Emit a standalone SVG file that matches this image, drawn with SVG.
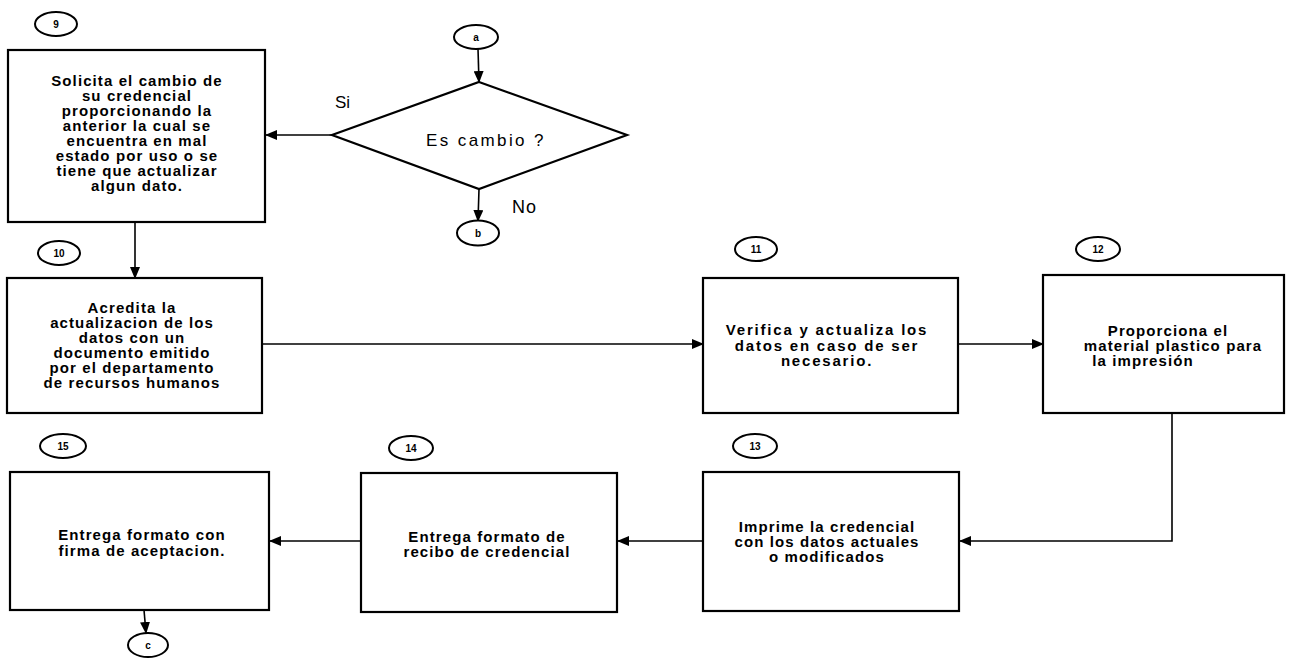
<svg xmlns="http://www.w3.org/2000/svg" width="1289" height="665" viewBox="0 0 1289 665">
<defs>
<marker id="arr" markerWidth="12" markerHeight="10" refX="11" refY="5" orient="auto" markerUnits="userSpaceOnUse">
<path d="M0,0 L12,5 L0,10 Z" fill="#000"/>
</marker>
<style>
.box{fill:#fff;stroke:#000;stroke-width:2.2}
.oval{fill:#fff;stroke:#000;stroke-width:2}
.con{fill:none;stroke:#000;stroke-width:1.6;marker-end:url(#arr)}
.t{font-family:"Liberation Sans",Arial,sans-serif;font-weight:bold;font-size:15px;letter-spacing:1.1px;text-anchor:middle;fill:#000}
.w{letter-spacing:1.8px}
.n{font-family:"Liberation Sans",Arial,sans-serif;font-weight:bold;font-size:10px;text-anchor:middle;fill:#000}
.l{font-family:"Liberation Sans",Arial,sans-serif;font-size:17px;fill:#000}
</style>
</defs>
<rect width="1289" height="665" fill="#fff"/>

<g id="connectors">
<line class="con" x1="478" y1="49" x2="479" y2="82"/>
<line class="con" x1="332" y1="135" x2="266" y2="135"/>
<line class="con" x1="479" y1="189" x2="478" y2="221"/>
<line class="con" x1="135" y1="222" x2="135" y2="278"/>
<line class="con" x1="262" y1="344" x2="703" y2="344"/>
<line class="con" x1="958" y1="344" x2="1043" y2="344"/>
<polyline class="con" points="1172,413 1172,541 960,541"/>
<line class="con" x1="703" y1="541" x2="618" y2="541"/>
<line class="con" x1="361" y1="541" x2="270" y2="541"/>
<line class="con" x1="144" y1="610" x2="146" y2="633"/>
</g>

<g id="node-a">
<ellipse class="oval" cx="476" cy="37" rx="22" ry="12"/>
<text class="n" x="476" y="40.5">a</text>
</g>

<g id="node-decision">
<polygon class="box" points="479,82 627,135 479,189 332,135"/>
<text class="l" x="486" y="146" text-anchor="middle" style="letter-spacing:2.4px">Es cambio ?</text>
<text class="l" x="335" y="108">Si</text>
<text class="l" x="512" y="213" style="font-size:18px;letter-spacing:1px">No</text>
</g>

<g id="node-b">
<ellipse class="oval" cx="478" cy="233" rx="21" ry="12.5"/>
<text class="n" x="478" y="236.5">b</text>
</g>

<g id="node-9">
<ellipse class="oval" cx="56" cy="24" rx="21" ry="12"/>
<text class="n" x="56" y="27.5">9</text>
<rect class="box" x="8" y="50" width="257" height="172"/>
<text class="t" x="137" y="86">Solicita el cambio de</text>
<text class="t" x="137" y="101">su credencial</text>
<text class="t" x="137" y="116">proporcionando la</text>
<text class="t" x="137" y="131">anterior la cual se</text>
<text class="t" x="137" y="146">encuentra en mal</text>
<text class="t" x="137" y="161">estado por uso o se</text>
<text class="t" x="137" y="176">tiene que actualizar</text>
<text class="t" x="137" y="191">algun dato.</text>
</g>

<g id="node-10">
<ellipse class="oval" cx="59" cy="253" rx="21" ry="12"/>
<text class="n" x="59" y="256.5">10</text>
<rect class="box" x="7" y="278" width="255" height="135"/>
<text class="t" x="132" y="313">Acredita la</text>
<text class="t" x="132" y="328">actualizacion de los</text>
<text class="t" x="132" y="343">datos con un</text>
<text class="t" x="132" y="358">documento emitido</text>
<text class="t" x="132" y="373">por el departamento</text>
<text class="t" x="132" y="388">de recursos humanos</text>
</g>

<g id="node-11">
<ellipse class="oval" cx="756" cy="249" rx="21" ry="12"/>
<text class="n" x="756" y="252.5">11</text>
<rect class="box" x="703" y="278" width="255" height="135"/>
<text class="t w" x="827" y="335">Verifica y actualiza los</text>
<text class="t w" x="827" y="350.5">datos en caso de ser</text>
<text class="t w" x="827" y="366">necesario.</text>
</g>

<g id="node-12">
<ellipse class="oval" cx="1098" cy="249" rx="22" ry="12"/>
<text class="n" x="1098" y="252.5">12</text>
<rect class="box" x="1043" y="275" width="241" height="138"/>
<text class="t" x="1168" y="336">Proporciona el</text>
<text class="t" x="1173" y="351">material plastico para</text>
<text class="t" x="1143" y="366">la impresión</text>
</g>

<g id="node-13">
<ellipse class="oval" cx="755" cy="446" rx="22" ry="12"/>
<text class="n" x="755" y="449.5">13</text>
<rect class="box" x="703" y="472" width="256" height="139"/>
<text class="t" x="827" y="532">Imprime la credencial</text>
<text class="t" x="827" y="547">con los datos actuales</text>
<text class="t" x="827" y="562">o modificados</text>
</g>

<g id="node-14">
<ellipse class="oval" cx="411" cy="448" rx="22" ry="12"/>
<text class="n" x="411" y="451.5">14</text>
<rect class="box" x="361" y="473" width="256" height="139"/>
<text class="t" x="487" y="542">Entrega formato de</text>
<text class="t" x="487" y="557">recibo de credencial</text>
</g>

<g id="node-15">
<ellipse class="oval" cx="63" cy="446" rx="23" ry="12"/>
<text class="n" x="63" y="449.5">15</text>
<rect class="box" x="10" y="472" width="259" height="138"/>
<text class="t" x="142" y="540">Entrega formato con</text>
<text class="t" x="142" y="556">firma de aceptacion.</text>
</g>

<g id="node-c">
<ellipse class="oval" cx="148" cy="645" rx="20" ry="12"/>
<text class="n" x="148" y="648.5">c</text>
</g>
</svg>
